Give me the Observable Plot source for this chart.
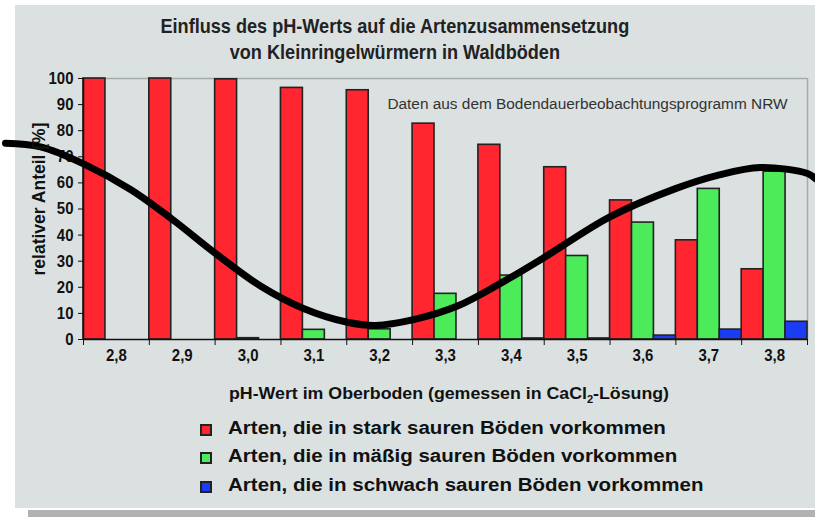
<!DOCTYPE html>
<html>
<head>
<meta charset="utf-8">
<script src="https://cdn.jsdelivr.net/npm/d3@7"></script>
<script src="https://cdn.jsdelivr.net/npm/@observablehq/plot@0.6"></script>
<style>
  html, body { margin: 0; padding: 0; background: #fff; }
  body { width: 815px; height: 517px; position: relative; overflow: hidden; font-family: "Liberation Sans", Arial, sans-serif; color: #111; }
  #panel { position: absolute; left: 15px; top: 5px; width: 800px; height: 503px; background: #dbe1e1; }
  #shadow { position: absolute; left: 28px; top: 510px; width: 787px; height: 7px; background: #b2b2b2; }
  .title { position: absolute; left: 0; width: 790px; text-align: center; font-size: 21px; font-weight: bold; color: #222; white-space: nowrap; line-height: 26px; transform: scaleX(0.862); transform-origin: 394px 0; }
  #chart { position: absolute; left: 0; top: 0; }
  #xtitle { position: absolute; left: 229px; top: 385px; font-size: 16px; line-height: 18px; font-weight: bold; color: #111; white-space: nowrap; transform: scaleX(1.11); transform-origin: 0 0; }
  #ylabel { position: absolute; left: 39px; top: 199px; font-size: 17.5px; font-weight: bold; color: #111; white-space: nowrap; transform: translate(-50%, -50%) rotate(-90deg); line-height: 20px; }
  .leg { position: absolute; left: 200px; height: 20px; }
  .leg span.sw { position: absolute; left: 0; width: 8px; height: 8px; border: 2px solid #222; }
  .leg span.tx { position: absolute; left: 28px; font-size: 18px; line-height: 21px; font-weight: bold; color: #111; white-space: nowrap; transform: scaleX(1.14); transform-origin: 0 0; }
</style>
</head>
<body>
<div id="panel"></div>
<div id="shadow"></div>
<div class="title" style="top:13px">Einfluss des pH-Werts auf die Artenzusammensetzung</div>
<div class="title" style="top:39px">von Kleinringelwürmern in Waldböden</div>
<div id="chart"></div>
<div id="ylabel"></div>
<div id="xtitle">pH-Wert im Oberboden (gemessen in CaCl<sub style="font-size:10px">2</sub>-Lösung)</div>
<div id="legend"></div>
<script>
// pH categories
const phValues = [2.8, 2.9, 3.0, 3.1, 3.2, 3.3, 3.4, 3.5, 3.6, 3.7, 3.8];
const phLabels = ["2,8", "2,9", "3,0", "3,1", "3,2", "3,3", "3,4", "3,5", "3,6", "3,7", "3,8"];
// series (relative share in %)
const seriesNames = [
  "Arten, die in stark sauren Böden vorkommen",
  "Arten, die in mäßig sauren Böden vorkommen",
  "Arten, die in schwach sauren Böden vorkommen"
];
const seriesColors = ["#ff2630", "#4ceb5a", "#1a3cf5"];
const strongAcid = [100, 100, 99.7, 96.4, 95.5, 82.7, 74.6, 66, 53.3, 38, 26.9];
const moderateAcid = [0, 0, 0.5, 3.7, 3.9, 17.5, 24.5, 32, 44.8, 57.7, 64.3];
const weakAcid = [0, 0, 0, 0, 0, 0, 0.4, 0.4, 1.5, 3.8, 6.8];
// overlaid wave
const wavePH = [2.6315, 2.6847, 2.75, 2.8214, 2.8852, 2.9505, 3.0189, 3.0842, 3.1511, 3.1936, 3.2514, 3.3182, 3.3835, 3.4504, 3.5491, 3.6494, 3.7132, 3.7786, 3.85, 3.8621];
const waveVal = [75.2, 73.8, 67.3, 57.5, 46, 33, 20.5, 11.9, 6.6, 5.4, 7.6, 12.8, 21.5, 31.5, 46.9, 57.8, 62.9, 65.9, 63.6, 61.6];
const yTicks = [0, 10, 20, 30, 40, 50, 60, 70, 80, 90, 100];
const sourceNote = "Daten aus dem Bodendauerbeobachtungsprogramm NRW";
const yLabel = "relativer Anteil [%]";

const allSeries = [strongAcid, moderateAcid, weakAcid];
const step = 0.1;
const bars = [];
allSeries.forEach((vals, si) => {
  vals.forEach((v, i) => {
    if (v > 0) bars.push({ph: phValues[i], s: si, value: v});
  });
});
const wave = wavePH.map((p, i) => ({ph: p, v: waveVal[i]}));
const lo = phValues[0] - step / 2, hi = phValues[phValues.length - 1] + step / 2;
const bounds = d3.range(phValues.length + 1).map(i => lo + i * step);

const chart = Plot.plot({
  width: 815,
  height: 420,
  marginTop: 78,
  marginBottom: 81,
  marginLeft: 83,
  marginRight: 8,
  style: {fontFamily: "Liberation Sans, Arial, sans-serif", background: "transparent", color: "#111"},
  x: {domain: [lo, hi], axis: null},
  y: {domain: [0, 100], axis: null},
  marks: [
    Plot.ruleY([100], {stroke: "#a4abab", strokeWidth: 1.5}),
    Plot.ruleX([hi], {y1: 100, y2: 0, stroke: "#a4abab", strokeWidth: 1.5}),
    Plot.rect(bars, {
      x1: d => d.ph - step / 2 + d.s * step / 3,
      x2: d => d.ph - step / 2 + (d.s + 1) * step / 3,
      y1: 0, y2: "value",
      fill: d => seriesColors[d.s],
      stroke: "#222", strokeWidth: 1.6
    }),
    Plot.ruleY([0], {stroke: "#111", strokeWidth: 1.5}),
    Plot.ruleX([lo], {y1: 0, y2: 100, stroke: "#111", strokeWidth: 1.5}),
    Plot.axisY({ticks: yTicks, tickSize: 5, tickPadding: 5, fontSize: 17, fontWeight: "bold", label: null, stroke: "#111"}),
    Plot.axisX({ticks: bounds, tickSize: 6, tickFormat: () => "", label: null, stroke: "#111"}),
    Plot.axisX({ticks: phValues, tickSize: 0, tickPadding: 9, tickFormat: (d, i) => phLabels[i], fontSize: 17, fontWeight: "bold", label: null}),
    Plot.text([sourceNote], {frameAnchor: "top-right", dx: -20, dy: 20, textAnchor: "end", fontSize: 15.4, fill: "#333"}),
    Plot.line(wave, {x: "ph", y: "v", curve: "catmull-rom", stroke: "#000", strokeWidth: 7, clip: false})
  ]
});
document.getElementById("chart").appendChild(chart);
// condense tick labels slightly (reference uses a narrow face)
chart.querySelectorAll('g[aria-label="y-axis tick label"] text, g[aria-label="x-axis tick label"] text').forEach(t => {
  const len = t.getComputedTextLength();
  if (len > 0) {
    t.setAttribute("textLength", (len * 0.88).toFixed(2));
    t.setAttribute("lengthAdjust", "spacingAndGlyphs");
  }
});
document.getElementById("ylabel").textContent = yLabel;

const legend = document.getElementById("legend");
const swCenters = [429.5, 458, 486.5];
seriesNames.forEach((name, i) => {
  const row = document.createElement("div");
  row.className = "leg";
  row.style.top = (swCenters[i] - 10) + "px";
  row.innerHTML = `<span class="sw" style="top:4px;background:${seriesColors[i]}"></span><span class="tx" style="top:-2px">${name}</span>`;
  legend.appendChild(row);
});
</script>
</body>
</html>
